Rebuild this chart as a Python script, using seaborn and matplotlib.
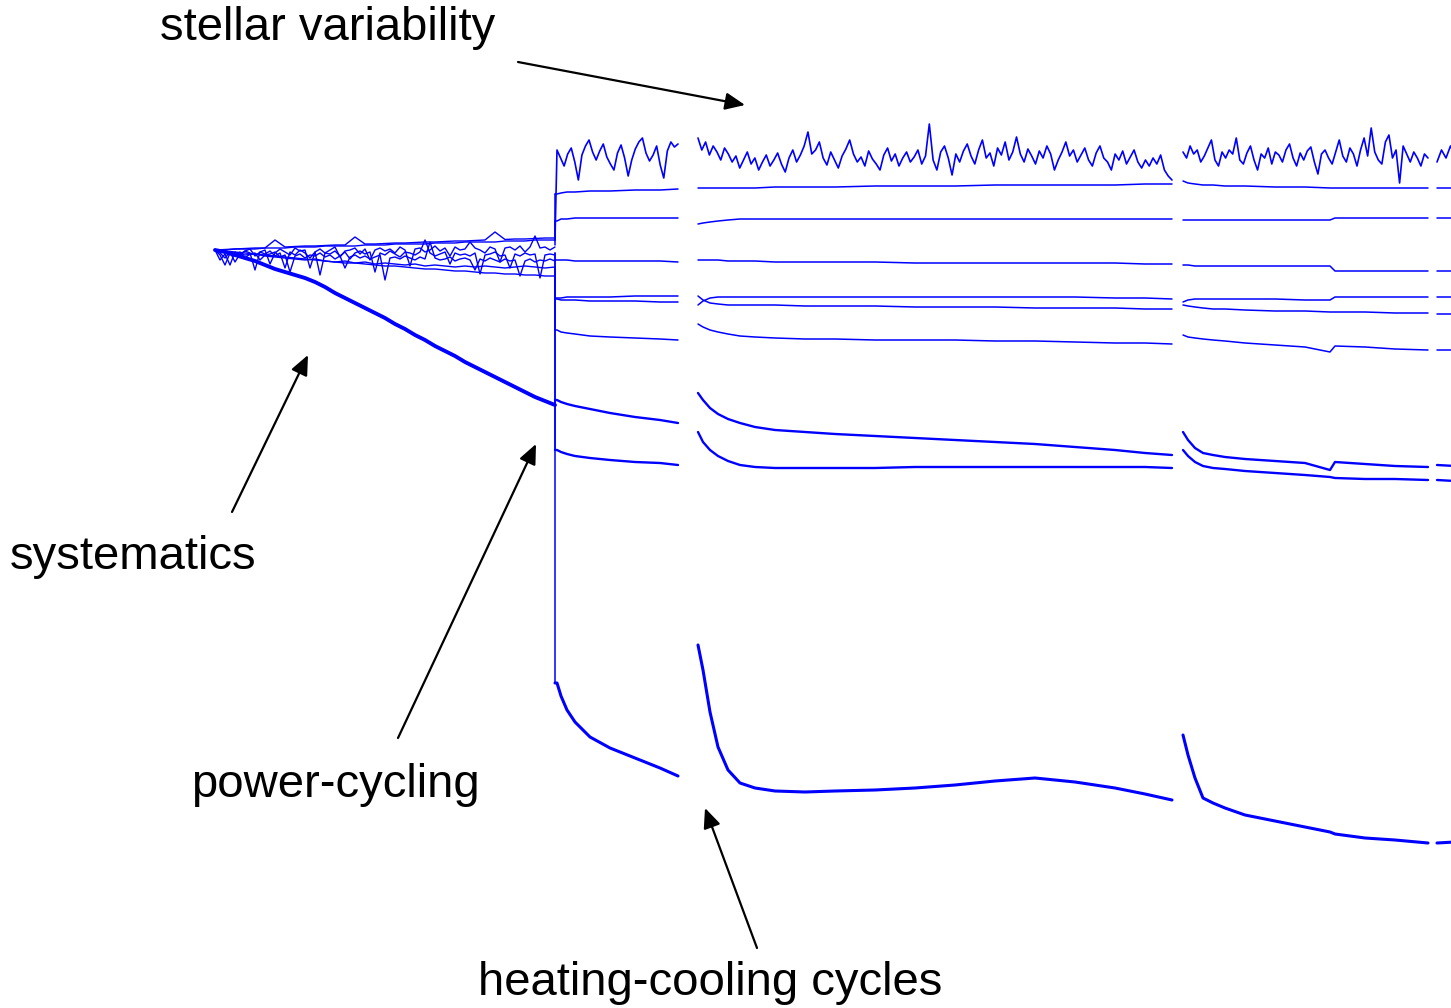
import numpy as np
import matplotlib
matplotlib.use("Agg")
import matplotlib.pyplot as plt
import seaborn as sns

sns.set_theme(style="white")
plt.rcParams["font.family"] = ["Liberation Sans", "DejaVu Sans"]

BLUE = "#0000ff"

# ---------------- data (time in days, brightness offset in mmag, down = fainter) ----
# Phase 1: early systematics (t = 0 .. 34)
P1_END = 34.0
BUNDLE_1 = [0, -0.5, -1, -1.5, -2, -2, -10, -3, -3.5, -4, -4, -4.5, -5, -5, -13, -6, -6, -6.5,
            -7, -7, -7.5, -8, -8, -8.5, -9, -9, -9.5, -10, -18, -10.5, -11, -11, -11.5, -12, -12]
BUNDLE_2 = [0, 0, -1, -1, -1, -2, -2, -2, -3, -3, -3, -4, -4, -4, -4, -5, -5, -5, -6, -6, -6,
            -6, -7, -7, -7, -8, -8, -8, -8, -9, -9, -9, -10, -10, -10]
BUNDLE_3 = [0, 3, 8, 2, 12, 4, 1, -1, 6, 2,
            0, 14, 3, -1, 2, 5, -2, 1, 0, 18,
            2, -1, 3, 0, -3, 7, 1, 0, -2, 4,
            -1, 10, 0, -2, 1, -1, 3, -3, 0, 16,
            -1, -2, 2, 0, -4, 1, -2, 6, -3, 0,
            -1, -8, -2, 0, 3, -3, -1, 12, -2, -3,
            0, -4, 2, -3, -14, -2, -3, 0, -3]
BUNDLE_4 = [0, 10, 4, 15, 2, 6, 1, 3, 20, 2,
            4, 1, 6, 3, 18, 2, 5, 0, 3, 8,
            2, 25, 3, 4, 1, 6, 2, 9, 3, 1,
            4, 2, 22, 3, 5, 1, 4, 7, 2, 3,
            5, 2, -10, 3, 6, 4, 2, 14, 3, 5,
            4, 6, 3, 24, 5, 4, 2, 6, 5, 18,
            4, 6, 3, 5, 4, 28, 5, 4, 5]
BUNDLE_5 = [0, 5, 15, 3, 6, 2, 8, 4, 3, 10,
            5, 4, 2, 7, 5, 22, 6, 4, 8, 5,
            6, 3, 7, 5, 9, 6, 18, 7, 5, 8,
            6, 9, 7, 5, 30, 8, 7, 9, 6, 8,
            10, 7, 9, -8, 8, 10, 9, 7, 11, 9,
            8, 10, 20, 9, 11, 8, 10, 12, 9, 11,
            10, 26, 11, 9, 12, 10, 11, 9, 11]
BUNDLE_6 = [0, 2, 3, 5, 4, 6, 7, 8, 9, 10, 9, 11, 12, 11, 13, 12, 14, 13, 14, 15, 14, 16, 15, 16,
            17, 16, 17, 16, 17, 18, 17, 16, 17, 18, 17]
BUNDLE_7 = [0, 1, 2, 3, 4, 5, 6, 7, 8, 9, 10, 11, 12, 13, 13, 14, 15, 16, 16, 17, 18, 19, 19, 20,
            21, 21, 22, 23, 23, 24, 24, 25, 25, 26, 26]
DRIFT = [0, 2, 5, 8, 11, 15, 19, 22, 25, 28, 32, 37, 43, 48, 53, 58, 63, 68, 74, 79, 85, 90, 96,
         101, 106, 112, 117, 122, 127, 132, 137, 142, 147, 151, 155]

# Observing blocks after power-cycling
BLOCK_A = (34.2, 46.3)
BLOCK_B = (48.3, 95.7)
BLOCK_C = (96.8, 121.3)
BLOCK_D = (122.2, 124.0)
JOIN_T = 34.0

# stellar variability trace
STAR_A = [-100, -92, -84, -96, -102, -88, -70, -95, -104, -110, -98, -90, -99, -106, -93, -86,
          -80, -97, -105, -92, -74, -90, -101, -108, -112, -97, -89, -95, -104, -85, -72, -99,
          -108, -103, -106]
STAR_B = [-112, -100, -108, -95, -104, -98, -90, -102, -96, -88,
          -94, -82, -90, -98, -86, -92, -80, -88, -95, -84,
          -90, -97, -86, -78, -92, -100, -88, -95, -104, -118,
          -96, -100, -108, -92, -85, -98, -90, -82, -94, -101,
          -110, -96, -88, -93, -84, -99, -91, -86, -80, -95,
          -102, -89, -96, -84, -92, -98, -88, -93, -100, -86,
          -94, -126, -90, -80, -98, -104, -92, -75, -96, -88,
          -99, -106, -94, -86, -100, -110, -92, -97, -84, -102,
          -95, -108, -90, -98, -113, -96, -88, -101, -94, -86,
          -99, -92, -104, -96, -80, -90, -98, -108, -94, -100,
          -88, -95, -102, -90, -84, -97, -104, -92, -88, -80,
          -96, -90, -99, -86, -93, -100, -88, -82, -90, -84,
          -92, -86, -95, -80, -74, -70]
STAR_C = [-98, -92, -104, -96, -100, -88, -94, -102, -110, -90,
          -84, -98, -92, -100, -96, -112, -90, -86, -97, -104,
          -90, -80, -96, -92, -102, -86, -98, -95, -88, -100,
          -106, -92, -84, -97, -90, -99, -103, -88, -76, -96,
          -100, -92, -86, -98, -110, -94, -88, -102, -96, -84,
          -100, -112, -94, -122, -98, -90, -86, -108, -115, -92,
          -100, -67, -104, -96, -88, -98, -92, -84, -96, -92]
STAR_D = [-88, -100, -92, -104, -95]

# knot times of the smoother traces in each block
TA = [34.2, 34.6, 35.2, 36.0, 37.5, 39.5, 42.0, 44.5, 46.3]
TB = [48.3, 48.8, 49.5, 50.3, 51.3, 52.5, 54.0, 56.0, 59.0, 62.0, 66.0, 70.0, 74.0, 78.0,
      82.0, 86.0, 90.0, 93.0, 95.7]
TC = [96.8, 97.3, 98.0, 98.8, 99.8, 101.0, 103.0, 106.0, 109.0, 111.5, 112.0, 115.0, 118.0, 121.3]
TD = [122.2, 124.0]

T2_A = [-56, -57, -58, -58, -59, -59, -60, -60, -61]
T2_B = [-62, -62, -62, -62, -62, -62, -62, -63, -63, -63, -64, -64, -64, -65, -65, -65, -65, -66, -66]
T2_C = [-69, -67, -66, -65, -65, -64, -64, -63, -63, -62, -62, -62, -62, -62]
T2_D = [-62, -62]

T3_A = [-29, -31, -31, -32, -32, -32, -32, -32, -32]
T3_B = [-26, -27, -28, -29, -30, -31, -31, -31, -31, -31, -31, -31, -31, -31, -31, -31, -31, -31, -31]
T3_C = [-30, -30, -30, -30, -30, -30, -30, -30, -30, -30, -32, -32, -32, -32]
T3_D = [-32, -32]

T4_A = [10, 10, 10, 11, 11, 11, 11, 11, 12]
T4_B = [10, 10, 10, 10, 11, 11, 11, 12, 12, 12, 12, 13, 13, 13, 13, 13, 13, 14, 14]
T4_C = [15, 15, 16, 16, 16, 16, 16, 16, 16, 16, 21, 21, 21, 21]
T4_D = [21, 21]

T5_A = [48, 48, 47, 47, 47, 47, 46, 46, 46]
T5_B = [55, 51, 48, 47, 47, 47, 47, 47, 47, 47, 47, 47, 47, 47, 47, 47, 48, 48, 49]
T5_C = [52, 50, 49, 49, 49, 49, 49, 49, 50, 50, 47, 47, 47, 47]
T5_D = [47, 47]

T6_A = [49, 50, 50, 50, 51, 51, 51, 52, 52]
T6_B = [46, 50, 53, 54, 55, 55, 55, 55, 56, 56, 56, 57, 57, 57, 58, 58, 58, 59, 59]
T6_C = [55, 56, 57, 58, 59, 59, 60, 61, 61, 62, 62, 62, 63, 63]
T6_D = [64, 64]

T7_A = [80, 82, 83, 84, 86, 87, 88, 89, 90]
T7_B = [74, 77, 80, 82, 84, 86, 87, 88, 89, 89, 90, 90, 90, 91, 91, 92, 93, 93, 94]
T7_C = [85, 87, 88, 89, 90, 91, 93, 95, 97, 102, 96, 97, 99, 100]
T7_D = [100, 100]

T8_A = [150, 152, 154, 156, 159, 163, 167, 170, 173]
T8_B = [143, 150, 158, 164, 169, 173, 177, 180, 182, 184, 186, 188, 190, 192, 194, 197, 200, 203, 205]
T8_C = [182, 190, 198, 203, 205, 207, 209, 211, 213, 220, 212, 214, 216, 217]
T8_D = [215, 216]

T9_A = [200, 202, 204, 206, 208, 210, 212, 213, 215]
T9_B = [182, 192, 200, 206, 211, 215, 217, 218, 218, 218, 218, 217, 217, 217, 217, 217, 217, 217, 218]
T9_C = [200, 206, 212, 216, 218, 219, 221, 223, 225, 227, 228, 229, 229, 230]
T9_D = [230, 231]

T10_A = [433, 446, 460, 472, 487, 498, 508, 518, 526]
T10_B = [395, 420, 462, 497, 520, 533, 538, 541, 542, 541, 540, 538, 535, 531, 528, 532, 538, 544, 550]
T10_C = [485, 505, 528, 548, 553, 558, 565, 571, 577, 582, 584, 588, 590, 593]
T10_D = [593, 592]

# value of each trace at the end of phase 1 (power-cycling jump)
JOIN_STAR = -10
JOIN_VALUES = [-10, -5, 3, 10, 17, 25, 155, 19, 3]

LABELS = ["stellar variability", "systematics", "power-cycling", "heating-cooling cycles"]

# ---------------- drawing ----------------
fig = plt.figure(figsize=(14.51, 10.08), dpi=100)
ax = fig.add_axes([0, 0, 1, 1])
ax.set_xlim(-21.5, 123.6)
ax.set_ylim(758, -250)
ax.axis("off")


def draw(t, y, lw=1.1):
    sns.lineplot(x=np.asarray(t, float), y=np.asarray(y, float), ax=ax, color=BLUE,
                 linewidth=lw, sort=False, estimator=None, errorbar=None, legend=False)


for b in [BUNDLE_1, BUNDLE_2, BUNDLE_3, BUNDLE_4, BUNDLE_5, BUNDLE_6, BUNDLE_7]:
    draw(np.linspace(0, P1_END, len(b)), b, 1.0)
draw(np.linspace(0, P1_END, len(DRIFT)), DRIFT, 2.8)

# stellar trace
star_blocks = [(BLOCK_A, STAR_A), (BLOCK_B, STAR_B), (BLOCK_C, STAR_C), (BLOCK_D, STAR_D)]
for i, (blk, vals) in enumerate(star_blocks):
    tt = list(np.linspace(blk[0], blk[1], len(vals)))
    yy = list(vals)
    if i == 0:
        tt = [JOIN_T] + tt
        yy = [JOIN_STAR] + yy
    draw(tt, yy, 1.2)

traces = [
    (T2_A, T2_B, T2_C, T2_D, 1.1),
    (T3_A, T3_B, T3_C, T3_D, 1.1),
    (T4_A, T4_B, T4_C, T4_D, 1.1),
    (T5_A, T5_B, T5_C, T5_D, 1.1),
    (T6_A, T6_B, T6_C, T6_D, 1.1),
    (T7_A, T7_B, T7_C, T7_D, 1.1),
    (T8_A, T8_B, T8_C, T8_D, 1.7),
    (T9_A, T9_B, T9_C, T9_D, 1.7),
    (T10_A, T10_B, T10_C, T10_D, 2.2),
]
for (a, b, c, d, lw), j in zip(traces, JOIN_VALUES):
    draw([JOIN_T, JOIN_T], [j, a[0]], 1.1)          # power-cycling jump
    draw([JOIN_T] + TA, [a[0]] + a, lw)
    draw(TB, b, lw)
    draw(TC, c, lw)
    draw(TD, d, lw)

# ---------------- annotations ----------------
arrow = dict(arrowstyle="-|>,head_length=0.8,head_width=0.35", color="black", lw=1.6,
             shrinkA=0, shrinkB=0, mutation_scale=15)
FS = 34
ax.text(-5.5, -210, LABELS[0], fontsize=FS, color="black", ha="left", va="baseline")
ax.annotate("", xy=(53.0, -145), xytext=(30.3, -188), arrowprops=arrow)

ax.text(-20.5, 319, LABELS[1], fontsize=FS, color="black", ha="left", va="baseline")
ax.annotate("", xy=(9.3, 105), xytext=(1.7, 262), arrowprops=arrow)

ax.text(-2.4, 547, LABELS[2], fontsize=FS, color="black", ha="left", va="baseline")
ax.annotate("", xy=(32.1, 194), xytext=(18.3, 488), arrowprops=arrow)

ax.text(26.3, 745, LABELS[3], fontsize=FS, color="black", ha="left", va="baseline")
ax.annotate("", xy=(49.0, 558), xytext=(54.2, 698), arrowprops=arrow)

fig.savefig("out.png", dpi=100, facecolor="white")
